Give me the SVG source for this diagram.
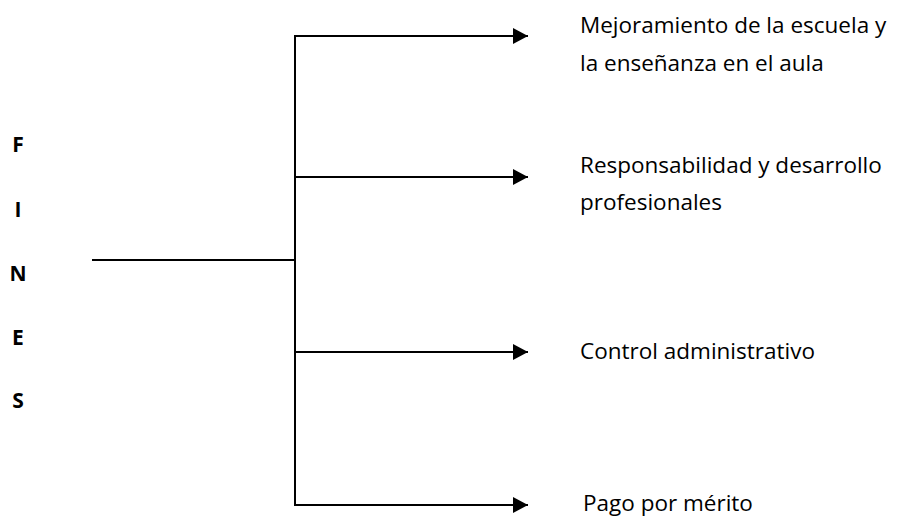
<svg xmlns="http://www.w3.org/2000/svg" width="903" height="518" viewBox="0 0 903 518">
<style>
.ln{stroke:#000;stroke-width:2;fill:none}
.lbl{font-family:"Open Sans","Liberation Sans",sans-serif;font-size:22.5px;fill:#000}
.ltr{font-family:"Open Sans","Liberation Sans",sans-serif;font-size:21px;font-weight:bold;fill:#000;text-anchor:middle}
</style>
<defs>
<marker id="ah" markerWidth="16" markerHeight="16" refX="15" refY="8" orient="auto" markerUnits="userSpaceOnUse">
<path d="M0,0 L15,8 L0,16 Z" fill="#000"/>
</marker>
</defs>
<g id="fines">
<text class="ltr" x="18" y="152">F</text>
<text class="ltr" x="18" y="217">I</text>
<text class="ltr" x="18" y="281">N</text>
<text class="ltr" x="18" y="345">E</text>
<text class="ltr" x="18" y="408">S</text>
</g>
<g id="connectors">
<line class="ln" x1="92" y1="260" x2="295" y2="260"/>
<line class="ln" x1="295" y1="36" x2="295" y2="505"/>
<line class="ln" x1="294" y1="36" x2="528" y2="36" marker-end="url(#ah)"/>
<line class="ln" x1="295" y1="177" x2="528" y2="177" marker-end="url(#ah)"/>
<line class="ln" x1="295" y1="352" x2="528" y2="352" marker-end="url(#ah)"/>
<line class="ln" x1="294" y1="505" x2="528" y2="505" marker-end="url(#ah)"/>
</g>
<g id="n1">
<text class="lbl" x="580" y="33">Mejoramiento de la escuela y</text>
<text class="lbl" x="580" y="71">la enseñanza en el aula</text>
</g>
<g id="n2">
<text class="lbl" x="580" y="173">Responsabilidad y desarrollo</text>
<text class="lbl" x="580" y="210">profesionales</text>
</g>
<g id="n3">
<text class="lbl" x="580" y="359">Control administrativo</text>
</g>
<g id="n4">
<text class="lbl" x="583" y="511">Pago por mérito</text>
</g>
</svg>
